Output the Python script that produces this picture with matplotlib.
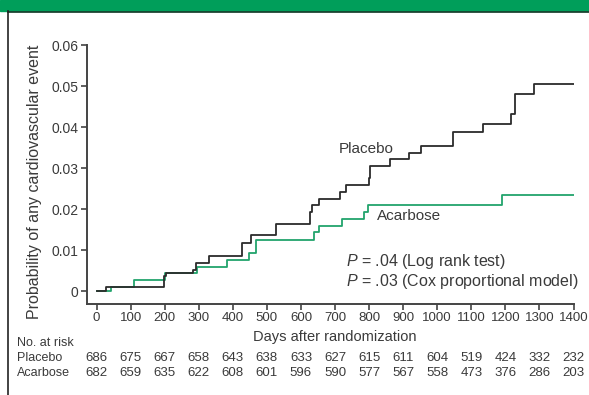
import matplotlib.pyplot as plt
from matplotlib.lines import Line2D
from matplotlib.patches import Rectangle

plt.rcParams['font.family'] = ['Liberation Sans', 'DejaVu Sans']
plt.rcParams['mathtext.fontset'] = 'custom'
plt.rcParams['mathtext.it'] = 'Liberation Sans:italic'
plt.rcParams['mathtext.rm'] = 'Liberation Sans'

# Kaplan-Meier style step curves (day, cumulative probability)
placebo_days = [0, 29, 198, 205, 284, 292, 331, 428, 452, 527, 626, 633, 653,
                715, 731, 799, 804, 861, 917, 951, 1047, 1134, 1218, 1228, 1284, 1400]
placebo_prob = [0, 0.001, 0.0036, 0.0044, 0.0052, 0.007, 0.0087, 0.0118, 0.0137,
                0.0163, 0.0193, 0.021, 0.0225, 0.0241, 0.0259, 0.0277, 0.0304,
                0.0323, 0.0338, 0.0355, 0.0388, 0.0408, 0.0432, 0.048, 0.0505, 0.0505]
acarbose_days = [0, 41, 109, 200, 295, 382, 447, 467, 637, 654, 720, 784, 798, 1191, 1400]
acarbose_prob = [0, 0.001, 0.0028, 0.0044, 0.0058, 0.0076, 0.0093, 0.0125, 0.0144,
                 0.0158, 0.0176, 0.0192, 0.021, 0.0235, 0.0235]

tick_days = list(range(0, 1401, 100))
placebo_risk = [686, 675, 667, 658, 643, 638, 633, 627, 615, 611, 604, 519, 424, 332, 232]
acarbose_risk = [682, 659, 635, 622, 608, 601, 596, 590, 577, 567, 558, 473, 376, 286, 203]

black = '#2b2b2b'
green = '#22a46c'
text_col = '#3a3a3a'

fig = plt.figure(figsize=(5.89, 3.95), dpi=100)
ax = fig.add_axes([87 / 589, 91 / 395, (573.5 - 87) / 589, (304 - 45) / 395])

ax.step(acarbose_days, acarbose_prob, where='post', color=green, lw=1.3)
ax.step(placebo_days, placebo_prob, where='post', color=black, lw=1.3)

ax.set_xlim(-28, 1400)
ax.set_ylim(-0.0031, 0.06)
ax.set_xticks(tick_days)
ax.set_yticks([0, 0.01, 0.02, 0.03, 0.04, 0.05, 0.06])
ax.set_yticklabels(['0', '0.01', '0.02', '0.03', '0.04', '0.05', '0.06'])
ax.tick_params(axis='both', direction='out', length=4, width=1.2, color='#444444',
               labelcolor=text_col, labelsize=9.5, pad=2)
ax.tick_params(axis='y', labelsize=10)
for side in ['top', 'right']:
    ax.spines[side].set_visible(False)
for side in ['left', 'bottom']:
    ax.spines[side].set_linewidth(1.4)
    ax.spines[side].set_color('#444444')

ax.set_ylabel('Probability of any cardiovascular event', fontsize=11.5, color=text_col)
ax.yaxis.set_label_coords(-0.093, 0.47)

ax.text(712, 0.0347, 'Placebo', fontsize=11, color=text_col, va='center')
ax.text(823, 0.0184, 'Acarbose', fontsize=11, color=text_col, va='center')
ax.text(731, 0.0048, '$P$ = .04 (Log rank test)\n$P$ = .03 (Cox proportional model)',
        fontsize=11.5, color=text_col, va='center', linespacing=1.1)

tr = ax.get_xaxis_transform()
ax.text(700, -0.126, 'Days after randomization', transform=tr, ha='center', va='center',
        fontsize=10.5, color=text_col)
for d, n1, n2 in zip(tick_days, placebo_risk, acarbose_risk):
    ax.text(d, -0.2085, str(n1), transform=tr, ha='center', va='center', fontsize=9.5, color=text_col)
    ax.text(d, -0.265, str(n2), transform=tr, ha='center', va='center', fontsize=9.5, color=text_col)

fig.text(17 / 589, 1 - 342.7 / 395, 'No. at risk', fontsize=9, color=text_col, va='center')
fig.text(17 / 589, 1 - 358 / 395, 'Placebo', fontsize=9, color=text_col, va='center')
fig.text(17 / 589, 1 - 372.7 / 395, 'Acarbose', fontsize=9, color=text_col, va='center')

# header band and frame
fig.patches.append(Rectangle((0, 1 - 11 / 395), 1, 11 / 395, transform=fig.transFigure,
                             color='#009e5a', zorder=0))
fig.lines.append(Line2D([8 / 589, 1], [1 - 11.5 / 395] * 2, transform=fig.transFigure,
                        color='#1a3a2a', lw=1.2))
fig.lines.append(Line2D([8 / 589] * 2, [0, 1 - 11 / 395], transform=fig.transFigure,
                        color='#222222', lw=1.2))

fig.savefig('out.png', dpi=100)
